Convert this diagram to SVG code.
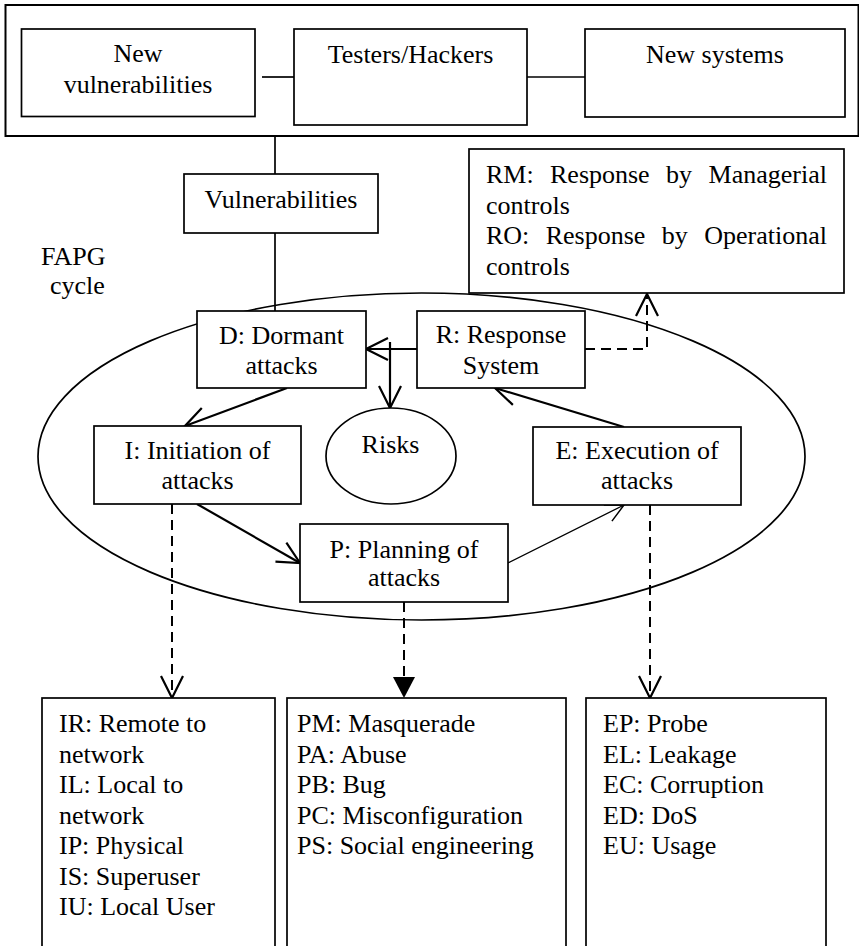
<svg xmlns="http://www.w3.org/2000/svg" width="859" height="946" viewBox="0 0 859 946">
<style>
text{font-family:"Liberation Serif","Times New Roman",serif;font-size:26px;fill:#000}
.box{fill:#fff;stroke:#000;stroke-width:1.7}
.c{text-anchor:middle}
.ln{fill:none;stroke:#000;stroke-width:1.7}
.th{fill:none;stroke:#000;stroke-width:2.2}
.tn{fill:none;stroke:#000;stroke-width:1.3}
.ds{fill:none;stroke:#000;stroke-width:2;stroke-dasharray:10 6}
</style>
<defs>
<marker id="open" markerUnits="userSpaceOnUse" refX="22" refY="11" markerWidth="24" markerHeight="24" orient="auto" overflow="visible">
<path d="M0,0 L22,11 L0,22" fill="none" stroke="#000" stroke-width="2.2"/>
</marker>
<marker id="openS" markerUnits="userSpaceOnUse" refX="18" refY="9" markerWidth="20" markerHeight="20" orient="auto" overflow="visible">
<path d="M0,0 L18,9 L0,18" fill="none" stroke="#000" stroke-width="1.5"/>
</marker>
<marker id="fill" markerUnits="userSpaceOnUse" refX="21" refY="11" markerWidth="22" markerHeight="22" orient="auto" overflow="visible">
<path d="M0,0 L21,11 L0,22 Z" fill="#000" stroke="none"/>
</marker>
</defs>

<g id="top-group">
<rect x="5.5" y="5" width="853" height="131" fill="#fff" stroke="#000" stroke-width="2"/>
</g>

<g id="fapg-cycle">
<ellipse cx="421.5" cy="456.5" rx="383.5" ry="163.5" fill="none" stroke="#000" stroke-width="1.7"/>
<text x="41" y="265">FAPG</text>
<text x="50" y="294">cycle</text>
</g>

<g id="connectors">
<line class="ln" x1="262" y1="77" x2="294" y2="77"/>
<line class="ln" x1="527" y1="77" x2="585" y2="77"/>
<line class="ln" x1="275" y1="136" x2="275" y2="174"/>
<line class="ln" x1="275" y1="233" x2="275" y2="311"/>
<line class="th" x1="417" y1="349" x2="366" y2="349" marker-end="url(#open)"/>
<line class="th" x1="390" y1="342" x2="390" y2="408" marker-end="url(#open)"/>
<line class="th" x1="287" y1="388" x2="185" y2="426" marker-end="url(#open)"/>
<line class="th" x1="197" y1="504" x2="300" y2="563" marker-end="url(#open)"/>
<line class="tn" x1="508" y1="563" x2="624" y2="505" marker-end="url(#openS)"/>
<line class="th" x1="624" y1="427" x2="495" y2="388" marker-end="url(#open)"/>
<path class="ds" d="M585,349 H647 V294" marker-end="url(#open)"/>
<line class="ds" x1="172" y1="504" x2="172" y2="698" marker-end="url(#open)"/>
<line class="ds" x1="404" y1="602" x2="404" y2="698" marker-end="url(#fill)"/>
<line class="ds" x1="650" y1="505" x2="650" y2="698" marker-end="url(#open)"/>
</g>

<g id="new-vulnerabilities">
<rect class="box" x="21.5" y="29" width="233.5" height="87.5"/>
<text class="c" x="138" y="62">New</text>
<text class="c" x="138" y="93">vulnerabilities</text>
</g>
<g id="testers-hackers">
<rect class="box" x="294" y="29" width="233" height="96"/>
<text class="c" x="410.5" y="63">Testers/Hackers</text>
</g>
<g id="new-systems">
<rect class="box" x="585" y="29" width="260" height="88"/>
<text class="c" x="715" y="63">New systems</text>
</g>
<g id="vulnerabilities">
<rect class="box" x="184" y="174" width="194" height="59"/>
<text class="c" x="281" y="208">Vulnerabilities</text>
</g>
<g id="response-controls">
<rect class="box" x="469" y="149" width="375" height="144"/>
<text x="486" y="183">RM:</text>
<text x="550" y="183">Response</text>
<text x="666" y="183">by</text>
<text x="827" y="183" text-anchor="end">Managerial</text>
<text x="486" y="213.5">controls</text>
<text x="486" y="244">RO:</text>
<text x="545.7" y="244">Response</text>
<text x="661.8" y="244">by</text>
<text x="827" y="244" text-anchor="end">Operational</text>
<text x="486" y="274.5">controls</text>
</g>
<g id="dormant">
<rect class="box" x="197" y="311" width="169" height="77"/>
<text class="c" x="281.5" y="344">D: Dormant</text>
<text class="c" x="281.5" y="374">attacks</text>
</g>
<g id="response-system">
<rect class="box" x="417" y="311" width="168" height="77"/>
<text class="c" x="501" y="343">R: Response</text>
<text class="c" x="501" y="374">System</text>
</g>
<g id="risks">
<ellipse cx="391" cy="456" rx="65" ry="48" fill="#fff" stroke="#000" stroke-width="1.7"/>
<text class="c" x="390.5" y="453">Risks</text>
</g>
<g id="initiation">
<rect class="box" x="94" y="426" width="207" height="78"/>
<text class="c" x="197.5" y="459">I: Initiation of</text>
<text class="c" x="197.5" y="489">attacks</text>
</g>
<g id="execution">
<rect class="box" x="533" y="427" width="208" height="78"/>
<text class="c" x="637" y="459">E: Execution of</text>
<text class="c" x="637" y="489">attacks</text>
</g>
<g id="planning">
<rect class="box" x="300" y="524" width="208" height="78"/>
<text class="c" x="404" y="558">P: Planning of</text>
<text class="c" x="404" y="586">attacks</text>
</g>
<g id="initiation-types">
<rect class="box" x="42" y="698" width="233" height="260"/>
<text x="59" y="732">IR: Remote to</text>
<text x="59" y="762.5">network</text>
<text x="59" y="793">IL: Local to</text>
<text x="59" y="823.5">network</text>
<text x="59" y="854">IP: Physical</text>
<text x="59" y="884.5">IS: Superuser</text>
<text x="59" y="915">IU: Local User</text>
</g>
<g id="planning-types">
<rect class="box" x="287" y="698" width="279" height="260"/>
<text x="297" y="732">PM: Masquerade</text>
<text x="297" y="762.5">PA: Abuse</text>
<text x="297" y="793">PB: Bug</text>
<text x="297" y="823.5">PC: Misconfiguration</text>
<text x="297" y="854">PS: Social engineering</text>
</g>
<g id="execution-types">
<rect class="box" x="586" y="698" width="240" height="260"/>
<text x="603" y="732">EP: Probe</text>
<text x="603" y="762.5">EL: Leakage</text>
<text x="603" y="793">EC: Corruption</text>
<text x="603" y="823.5">ED: DoS</text>
<text x="603" y="854">EU: Usage</text>
</g>
</svg>
